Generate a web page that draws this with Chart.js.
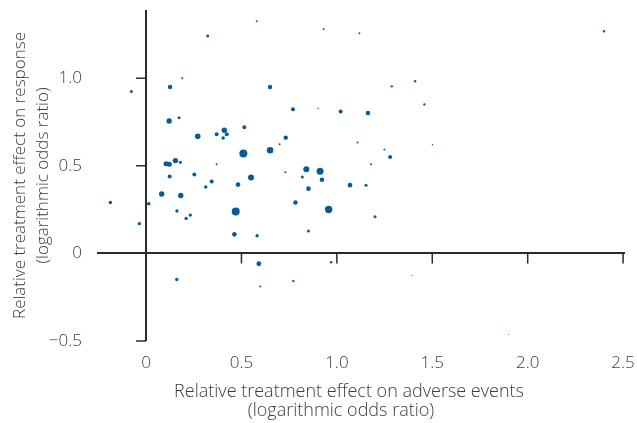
<!DOCTYPE html>
<html>
<head>
<meta charset="utf-8">
<script src="https://cdn.jsdelivr.net/npm/chart.js@4.4.1/dist/chart.umd.min.js"></script>
<style>
  html, body { margin: 0; padding: 0; background: #fff; }
  #wrap { width: 637px; height: 423px; }
</style>
</head>
<body>
<div id="wrap"><canvas id="chart"></canvas></div>
<script>
// relative treatment effects per comparison (log odds ratios)
const adverseEffect = [
  0.580, 0.323, 0.190, 0.126, -0.077, 0.650, 0.121, 0.173, 0.515, 0.410,
  0.271, 0.370, 0.423, 0.404, 0.510, 0.650, 0.154, 0.105, 0.122, 0.180,
  0.370, 0.124, 0.253, 0.344, 0.313, 0.482, 0.550, 0.082, 0.182, -0.187,
  0.014, 0.470, 0.162, 0.232, 0.210, -0.035, 0.463, 0.582, 0.591, 0.931,
  1.118, 1.288, 1.410, 1.459, 0.770, 0.901, 1.020, 1.163, 0.732, 2.400,
  0.700, 1.108, 1.249, 1.279, 1.179, 1.501, 0.730, 0.840, 0.912, 0.819,
  0.922, 0.851, 1.069, 1.153, 0.783, 0.957, 1.200, 0.851, 0.970, 0.161,
  0.599, 0.772, 1.392, 1.899
];
const responseEffect = [
  1.326, 1.242, 1.000, 0.950, 0.924, 0.950, 0.756, 0.775, 0.720, 0.703,
  0.669, 0.680, 0.680, 0.659, 0.571, 0.589, 0.530, 0.512, 0.509, 0.520,
  0.509, 0.440, 0.451, 0.411, 0.379, 0.393, 0.434, 0.339, 0.331, 0.291,
  0.284, 0.240, 0.242, 0.219, 0.200, 0.170, 0.109, 0.101, -0.059, 1.280,
  1.257, 0.954, 0.983, 0.851, 0.823, 0.829, 0.811, 0.802, 0.661, 1.269,
  0.623, 0.634, 0.594, 0.550, 0.509, 0.621, 0.463, 0.480, 0.469, 0.436,
  0.421, 0.370, 0.390, 0.390, 0.291, 0.251, 0.210, 0.128, -0.050, -0.149,
  -0.189, -0.158, -0.126, -0.463
];
// study weight (drawn as bubble radius)
const studyWeight = [
  1.0, 1.5, 1.0, 2.2, 1.5, 2.2, 2.7, 1.5, 2.0, 2.7,
  2.8, 2.0, 2.0, 1.8, 4.0, 3.3, 2.7, 2.5, 2.5, 1.5,
  1.0, 2.0, 2.0, 2.0, 1.7, 2.3, 3.0, 2.7, 2.7, 1.7,
  1.8, 4.0, 1.7, 1.7, 1.7, 1.7, 2.3, 1.7, 2.4, 1.0,
  1.0, 1.2, 1.2, 1.2, 2.0, 0.8, 2.0, 2.3, 2.2, 1.2,
  1.0, 1.0, 1.0, 2.0, 1.0, 0.7, 1.0, 3.0, 3.5, 1.5,
  2.3, 2.3, 2.3, 1.5, 2.2, 3.7, 1.5, 1.5, 1.3, 1.7,
  1.0, 1.2, 0.5, 0.5
];

const xTicks = [0, 0.5, 1.0, 1.5, 2.0, 2.5];
const xTickLabels = ['0', '0.5', '1.0', '1.5', '2.0', '2.5'];
const yTicks = [-0.5, 0, 0.5, 1.0];
const yTickLabels = ['\u22120.5', '0', '0.5', '1.0'];

const xTitle = ['Relative treatment effect on adverse events', '(logarithmic odds ratio)'];
const yTitle = ['Relative treatment effect on response', '(logarithmic odds ratio)'];

const FONT = '"Open Sans", "Liberation Sans", sans-serif';
const TEXT = '#3c3c3c';
const AXIS = '#2b2b2b';

const points = adverseEffect.map((v, i) => ({ x: v, y: responseEffect[i], r: studyWeight[i] }));

// short tick marks sitting on the zero lines
const crossTicks = {
  id: 'crossTicks',
  beforeDatasetsDraw(chart) {
    const { ctx, scales: { x, y } } = chart;
    const x0 = x.getPixelForValue(0), y0 = y.getPixelForValue(0);
    ctx.save();
    ctx.strokeStyle = AXIS;
    ctx.lineWidth = 1.5;
    ctx.beginPath();
    xTicks.forEach(v => {
      if (v === 0) return;
      const px = x.getPixelForValue(v);
      ctx.moveTo(px, y0);
      ctx.lineTo(px, y0 + 10);
    });
    yTicks.forEach(v => {
      if (v === 0) return;
      const py = y.getPixelForValue(v);
      ctx.moveTo(x0 - 10, py);
      ctx.lineTo(x0, py);
    });
    ctx.stroke();
    ctx.restore();
  }
};

// axis titles, placed like the original
const axisTitles = {
  id: 'axisTitles',
  afterDraw(chart) {
    const { ctx, chartArea } = chart;
    ctx.save();
    ctx.fillStyle = TEXT;
    ctx.font = '300 18px ' + FONT;
    ctx.textAlign = 'center';
    ctx.textBaseline = 'middle';
    ctx.fillText(xTitle[0], 349, 392);
    ctx.fillText(xTitle[1], 341, 411);
    ctx.font = '300 17px ' + FONT;
    ctx.translate(0, (chartArea.top + chartArea.bottom) / 2);
    ctx.rotate(-Math.PI / 2);
    ctx.fillText(yTitle[0], 0, 20);
    ctx.fillText(yTitle[1], 0, 43);
    ctx.restore();
  }
};

const zeroLine = c => (c.tick && c.tick.value === 0 ? AXIS : 'rgba(0,0,0,0)');

new Chart(document.getElementById('chart').getContext('2d'), {
  type: 'bubble',
  data: {
    datasets: [{
      data: points,
      backgroundColor: '#0a5a98',
      borderWidth: 0,
      hoverRadius: 0
    }]
  },
  options: {
    responsive: true,
    maintainAspectRatio: false,
    animation: false,
    events: [],
    layout: { padding: { top: 10, right: 12, left: 0, bottom: 0 } },
    plugins: { legend: { display: false }, tooltip: { enabled: false } },
    scales: {
      x: {
        type: 'linear',
        min: -0.257,
        max: 2.51,
        afterBuildTicks: s => { s.ticks = xTicks.map(v => ({ value: v })); },
        afterFit: s => { s.height = 82; s.paddingLeft = 0; s.paddingRight = 0; },
        border: { display: false },
        grid: { color: zeroLine, lineWidth: 2, drawTicks: false },
        ticks: {
          padding: 12,
          maxRotation: 0,
          autoSkip: false,
          color: TEXT,
          font: { family: FONT, size: 17, weight: 300 },
          callback: v => xTickLabels[xTicks.indexOf(v)]
        }
      },
      y: {
        type: 'linear',
        min: -0.5,
        max: 1.39,
        afterBuildTicks: s => { s.ticks = yTicks.map(v => ({ value: v })); },
        afterFit: s => { s.width = 97; s.paddingTop = 0; s.paddingBottom = 0; },
        border: { display: false },
        grid: { color: zeroLine, lineWidth: 2, drawTicks: false },
        ticks: {
          padding: 15,
          autoSkip: false,
          color: TEXT,
          font: { family: FONT, size: 17, weight: 300 },
          callback: v => yTickLabels[yTicks.indexOf(v)]
        }
      }
    }
  },
  plugins: [crossTicks, axisTitles]
});
</script>
</body>
</html>
